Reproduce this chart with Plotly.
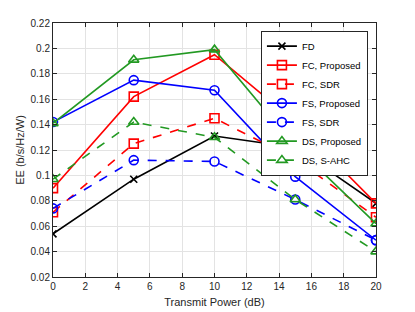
import plotly.graph_objects as go

x_power = [0, 5, 10, 15, 20]
fd = [0.054, 0.097, 0.131, 0.122, 0.078]
fc_proposed = [0.090, 0.162, 0.195, 0.142, 0.078]
fc_sdr = [0.071, 0.125, 0.145, 0.113, 0.067]
fs_proposed = [0.142, 0.175, 0.167, 0.099, 0.049]
fs_sdr = [0.074, 0.112, 0.111, 0.081, 0.049]
ds_proposed = [0.141, 0.191, 0.199, 0.123, 0.062]
ds_sahc = [0.097, 0.142, 0.130, 0.081, 0.040]

y_ticks = [0.02, 0.04, 0.06, 0.08, 0.10, 0.12, 0.14, 0.16, 0.18, 0.20, 0.22]
y_tick_labels = ["0.02", "0.04", "0.06", "0.08", "0.1", "0.12", "0.14", "0.16", "0.18", "0.2", "0.22"]
x_ticks = [0, 2, 4, 6, 8, 10, 12, 14, 16, 18, 20]

RED = "#ff0000"
BLUE = "#0000ff"
GREEN = "#229922"
BLACK = "#000000"

series = [
    ("FD", fd, BLACK, "solid", "x-thin-open"),
    ("FC, Proposed", fc_proposed, RED, "solid", "square-open"),
    ("FC, SDR", fc_sdr, RED, "dash", "square-open"),
    ("FS, Proposed", fs_proposed, BLUE, "solid", "circle-open"),
    ("FS, SDR", fs_sdr, BLUE, "dash", "circle-open"),
    ("DS, Proposed", ds_proposed, GREEN, "solid", "triangle-up-open"),
    ("DS, S-AHC", ds_sahc, GREEN, "dash", "triangle-up-open"),
]

fig = go.Figure()
for name, ys, color, dash, sym in series:
    fig.add_trace(go.Scatter(
        x=x_power, y=ys, name=name, mode="lines+markers",
        line=dict(color=color, width=1.6, dash=dash),
        marker=dict(symbol=sym, size=9 if "x" not in sym else 7,
                    color=color, line=dict(color=color, width=1.6)),
    ))

FONT = "Liberation Sans, Arial, sans-serif"
axis_common = dict(
    showline=True, linecolor="#262626", linewidth=1, mirror="ticks",
    ticks="inside", ticklen=4, tickcolor="#262626",
    showgrid=True, gridcolor="#e3e3e3", gridwidth=1, zeroline=False,
    automargin=False,
    tickfont=dict(family=FONT, size=10, color="#262626"),
    title_font=dict(family=FONT, size=11, color="#262626"),
)

fig.update_xaxes(range=[0, 20], tickvals=x_ticks, title_text="Transmit Power (dB)",
                 title_standoff=7, **axis_common)
fig.update_yaxes(range=[0.02, 0.22], tickvals=y_ticks, ticktext=y_tick_labels,
                 title_text="EE (b/s/Hz/W)", title_standoff=3, **axis_common)

fig.update_layout(
    width=415, height=312,
    margin=dict(l=45, r=47, t=15, b=43),
    plot_bgcolor="white", paper_bgcolor="white",
    font=dict(family=FONT, size=10, color="#262626"),
    legend=dict(
        x=0.975, y=0.97, xanchor="right", yanchor="top",
        bgcolor="white", bordercolor="#262626", borderwidth=1,
        font=dict(family=FONT, size=9.5, color="#000000"),
        tracegroupgap=0, itemwidth=30,
    ),
)

fig.write_html("out.html")
